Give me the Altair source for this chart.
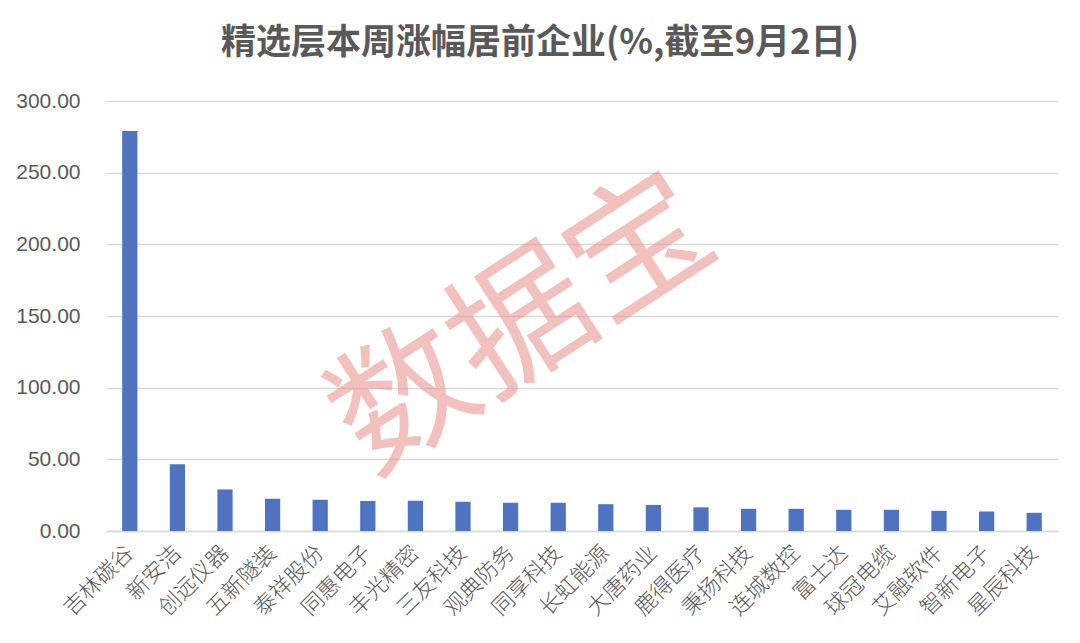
import altair as alt
import pandas as pd

companies = ["吉林碳谷", "新安洁", "创远仪器", "五新隧装", "泰祥股份", "同惠电子", "丰光精密",
             "三友科技", "观典防务", "同享科技", "长虹能源", "大唐药业", "鹿得医疗", "秉扬科技",
             "连城数控", "富士达", "球冠电缆", "艾融软件", "智新电子", "星辰科技"]
gains = [279.1, 46.5, 29.0, 22.5, 21.8, 20.9, 21.1, 20.4, 19.7, 19.7,
         18.7, 18.2, 16.5, 15.5, 15.5, 14.8, 14.8, 14.1, 13.6, 12.7]
y_ticks = [0, 50, 100, 150, 200, 250, 300]
title_text = "精选层本周涨幅居前企业(%,截至9月2日)"
watermark = "数据宝"

df = pd.DataFrame({"company": companies, "gain": gains})

FONT = "Noto Sans CJK SC"

bars = alt.Chart(df).mark_bar(color="#4f72c1").encode(
    x=alt.X("company:N", sort=companies, title=None,
            scale=alt.Scale(paddingInner=0.68, paddingOuter=0.34),
            axis=alt.Axis(labelAngle=-45, labelAlign="right", labelBaseline="middle",
                          labelFontSize=22, labelFontWeight=300, labelColor="#595959",
                          labelFont=FONT, labelPadding=18, ticks=False, domain=True,
                          domainColor="#d9d9d9", domainWidth=1.5, grid=False)),
    y=alt.Y("gain:Q", title=None,
            scale=alt.Scale(domain=[0, 300], nice=False),
            axis=alt.Axis(values=y_ticks, format=".2f", labelFontSize=21,
                          labelColor="#595959", labelFont="Liberation Sans",
                          labelPadding=26, ticks=False, domain=False,
                          grid=True, gridColor="#d9d9d9", gridWidth=1.5)),
)

mark_df = pd.DataFrame({"t": [watermark]})
wm = alt.Chart(mark_df).mark_text(
    font=FONT, fontSize=140, angle=327, color="#e8908a", opacity=0.55,
    align="center", baseline="middle"
).encode(
    text="t:N",
    x=alt.value(418),
    y=alt.value(226),
)

chart = alt.layer(bars, wm).properties(
    width=952, height=430,
    autosize=alt.AutoSizeParams(type="none"),
    padding={"left": 98, "top": 93, "right": 14, "bottom": 100},
    title=alt.TitleParams(title_text, fontSize=35, fontWeight="bold", color="#595959",
                          font=FONT, anchor="middle", dx=-42, offset=29),
).configure_view(stroke=None)

chart.save("out.html", embed_options={"renderer": "svg", "actions": False})
